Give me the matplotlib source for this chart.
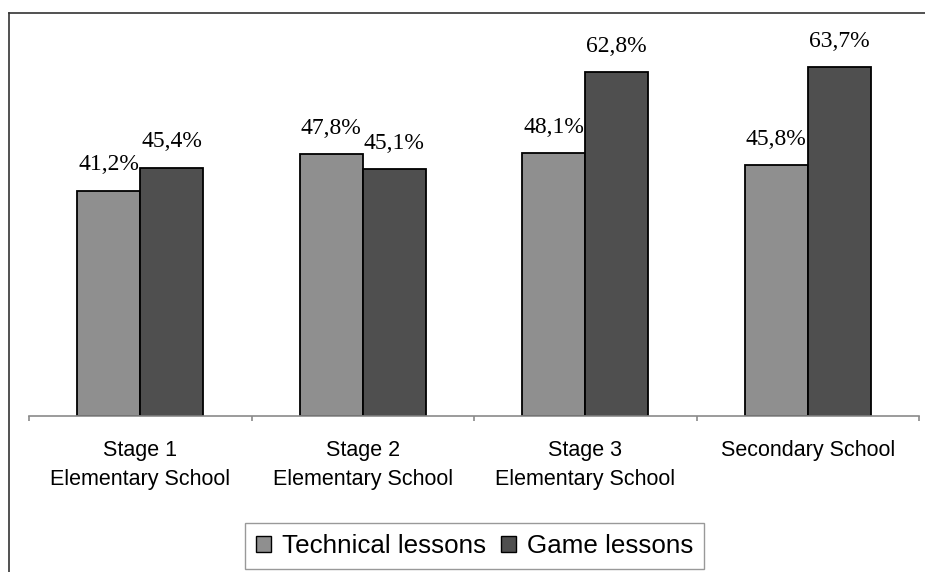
import matplotlib
matplotlib.use("Agg")
import matplotlib.pyplot as plt
from matplotlib.lines import Line2D
from matplotlib.patches import Patch
import numpy as np

categories = ["Stage 1\nElementary School", "Stage 2\nElementary School",
              "Stage 3\nElementary School", "Secondary School"]
technical = [41.2, 47.8, 48.1, 45.8]
game = [45.4, 45.1, 62.8, 63.7]
series_names = ["Technical lessons", "Game lessons"]
colors = ["#8f8f8f", "#4f4f4f"]

W, H = 925, 572
fig = plt.figure(figsize=(W / 100, H / 100), dpi=100)
fig.patch.set_facecolor("white")

# plot area in pixel terms
left, right, bottom, top = 29, 919, 416, 33
ax = fig.add_axes([left / W, 1 - bottom / H, (right - left) / W, (bottom - top) / H])
ax.set_ylim(0, 70)
ax.set_xlim(-0.5, len(categories) - 0.5)

x = np.arange(len(categories))
bw = 0.283
for vals, off, col in [(technical, -bw / 2, colors[0]), (game, bw / 2, colors[1])]:
    bars = ax.bar(x + off, vals, width=bw, color=col, edgecolor="black", linewidth=1.3)
    for b, v in zip(bars, vals):
        ax.annotate(f"{v:.1f}%".replace(".", ","),
                    (b.get_x() + b.get_width() / 2, v),
                    xytext=(0, 11), textcoords="offset points",
                    ha="center", va="bottom",
                    fontsize=17, family="Liberation Serif", color="black")

for s in ["left", "right", "top"]:
    ax.spines[s].set_visible(False)
ax.spines["bottom"].set_color("#8a8a8a")
ax.spines["bottom"].set_linewidth(1.2)
ax.set_yticks([])

ax.set_xticks(x)
ax.set_xticklabels(categories, fontsize=15.5, family="Liberation Sans",
                   va="top", linespacing=1.55)
ax.tick_params(axis="x", which="major", length=0, pad=17)
ax.set_xticks(np.arange(-0.5, len(categories)), minor=True)
ax.tick_params(axis="x", which="minor", length=3.8, width=1.2, color="#8a8a8a",
               direction="out")

# outer frame lines (left and top)
fig.add_artist(Line2D([9 / W, 9 / W], [0, 1 - 13 / H], transform=fig.transFigure,
                      color="#333333", linewidth=1.2))
fig.add_artist(Line2D([9 / W, 1], [1 - 13 / H, 1 - 13 / H], transform=fig.transFigure,
                      color="#333333", linewidth=1.2))

handles = [Patch(facecolor=c, edgecolor="black", linewidth=1.0) for c in colors]
leg = fig.legend(handles, series_names, loc="upper left",
                 bbox_to_anchor=(245 / W, 1 - 523 / H), bbox_transform=fig.transFigure,
                 ncol=2, frameon=True, fancybox=False, borderaxespad=0,
                 prop={"family": "Liberation Sans", "size": 18.7},
                 handlelength=0.6, handleheight=0.6, handletextpad=0.42,
                 columnspacing=0.54, borderpad=0.42)
leg.get_frame().set_edgecolor("#808080")
leg.get_frame().set_linewidth(1.0)

fig.savefig("out.png", dpi=100, facecolor="white")
